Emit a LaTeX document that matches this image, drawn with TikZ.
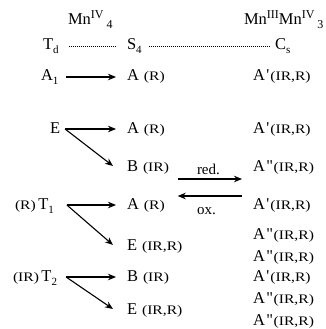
\documentclass[tikz,border=0pt]{standalone}
\usepackage{fontspec}
\usepackage{graphicx}
\newfontfamily\tnr{Liberation Serif}
\usetikzlibrary{arrows.meta}
% superscript / subscript pieces for the chemical labels
\newcommand{\hi}[1]{\raisebox{6pt}{\fontsize{12}{13}\selectfont #1}}
\newcommand{\lo}[1]{\raisebox{-4pt}{\fontsize{11}{12}\selectfont #1}}
% activity tags: small, slightly wide type
\newcommand{\smt}[1]{\scalebox{1.2}[1]{\fontsize{13}{14}\selectfont #1}}
\newcommand{\pr}{\hspace{1.5pt}'\hspace{1pt}}
\newcommand{\dpr}{\hspace{1.5pt}"\hspace{0.5pt}}
\begin{document}
\begin{tikzpicture}[x=1pt,y=-1pt,
  every node/.style={inner sep=0pt,outer sep=0pt,anchor=base west},
  big/.style={font=\tnr\fontsize{16.5}{18}\selectfont},
  lbl/.style={font=\tnr\fontsize{15}{16}\selectfont},
  arr/.style={-{Stealth[length=8pt,width=6.5pt,inset=2.5pt]},line width=1.1pt},
  dots/.style={line width=0.8pt,dash pattern=on 0.8pt off 1.2pt}]
\useasboundingbox (0,0) rectangle (325,329);

% header: compositions and point groups
\node[big] (mnA) at (68,25) {Mn\hi{IV}\hspace{3pt}\lo{\fontsize{12}{13}\selectfont 4}};
\node[big] (mnB) at (244,25) {Mn\hi{III}Mn\hi{IV}\hspace{3pt}\lo{\fontsize{12}{13}\selectfont 3}};
\node[big] (Td) at (43,49) {T\lo{d}};
\node[big] (S4) at (127,49) {S\lo{4}};
\node[big] (Cs) at (275,49) {C\lo{s}};
\draw[dots] ([shift={(10,-3)}]Td.base east) -- ([shift={(-12,-3)}]S4.base west);
\draw[dots] ([shift={(7,-3)}]S4.base east) -- ([shift={(-5,-3)}]Cs.base west);

% left column: Td irreps
\node[big] (A1) at (41,81) {A\lo{1}};
\node[big] (E) at (50,133) {E};
\node[big] (T1) at (15,209) {\smt{(R)}\hspace{2.5pt}T\lo{1}};
\node[big] (T2) at (13,281) {\smt{(IR)}\hspace{2.5pt}T\lo{2}};

% middle column: S4 irreps
\node[big] (sA1) at (127,81) {A\hspace{5pt}\smt{(R)}};
\node[big] (sA2) at (127,133) {A\hspace{5pt}\smt{(R)}};
\node[big] (sB1) at (127,171) {B\hspace{5pt}\smt{(IR)}};
\node[big] (sA3) at (127,209) {A\hspace{5pt}\smt{(R)}};
\node[big] (sE1) at (127,250) {E\hspace{5pt}\smt{(IR,R)}};
\node[big] (sB2) at (127,281) {B\hspace{5pt}\smt{(IR)}};
\node[big] (sE2) at (127,314) {E\hspace{5pt}\smt{(IR,R)}};

% right column: Cs irreps
\node[big] (c1) at (253,81) {A\pr\smt{(IR,R)}};
\node[big] (c2) at (253,133) {A\pr\smt{(IR,R)}};
\node[big] (c3) at (253,171) {A\dpr\smt{(IR,R)}};
\node[big] (c4) at (253,209) {A\pr\smt{(IR,R)}};
\node[big] (c5) at (253,239) {A\dpr\smt{(IR,R)}};
\node[big] (c6) at (253,261) {A\dpr\smt{(IR,R)}};
\node[big] (c7) at (253,281) {A\pr\smt{(IR,R)}};
\node[big] (c8) at (253,303) {A\dpr\smt{(IR,R)}};
\node[big] (c9) at (253,325) {A\dpr\smt{(IR,R)}};

% correlation arrows Td -> S4
\draw[arr] ([shift={(8,-4)}]A1.base east) -- ([shift={(-11,-4)}]sA1.base west);
\draw[arr] ([shift={(5,-4)}]E.base east) -- ([shift={(-11,-4)}]sA2.base west);
\draw[arr] ([shift={(5,-4)}]E.base east) -- ([shift={(-14,-5)}]sB1.base west);
\draw[arr] ([shift={(13,-4)}]T1.base east) -- ([shift={(-11,-4)}]sA3.base west);
\draw[arr] ([shift={(13,-4)}]T1.base east) -- ([shift={(-14,-5)}]sE1.base west);
\draw[arr] ([shift={(9,-4)}]T2.base east) -- ([shift={(-11,-4)}]sB2.base west);
\draw[arr] ([shift={(9,-4)}]T2.base east) -- ([shift={(-14,-5)}]sE2.base west);

% redox arrows S4 <-> Cs
\draw[arr] ([shift={(9,8)}]sB1.base east) -- ([shift={(-11,8)}]c3.base west);
\draw[arr] ([shift={(-11,-13)}]c4.base west) -- ([shift={(13,-13)}]sA3.base east);
\node[lbl] (red) at (197,174) {red.};
\node[lbl] (ox) at (197,214) {ox.};
\end{tikzpicture}
\end{document}
